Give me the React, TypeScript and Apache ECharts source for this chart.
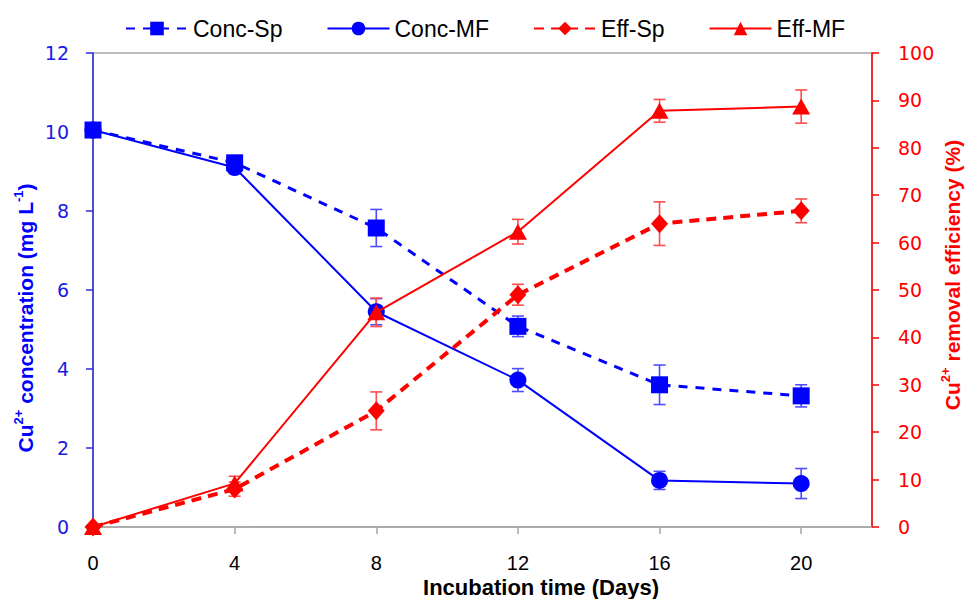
import React, { useEffect, useRef } from "react";
import * as echarts from "echarts";

const days = [0, 4, 8, 12, 16, 20];
const concSp = [10.05, 9.22, 7.57, 5.08, 3.6, 3.32];
const concSpErr = [0, 0.12, 0.47, 0.26, 0.5, 0.28];
const concMF = [10.05, 9.1, 5.45, 3.72, 1.18, 1.1];
const concMFErr = [0, 0.15, 0.33, 0.29, 0.23, 0.38];
const effSp = [0, 8, 24.5, 49, 64, 66.7];
const effSpErr = [0, 1.5, 4, 2.2, 4.6, 2.5];
const effMF = [0, 9.2, 45.3, 62.3, 87.8, 88.7];
const effMFErr = [0, 1.5, 3, 2.6, 2.4, 3.5];

const leftTicks = [0, 2, 4, 6, 8, 10, 12];
const rightTicks = [0, 10, 20, 30, 40, 50, 60, 70, 80, 90, 100];

const BLUE = "#0000ff";
const RED = "#ff0000";
const SANS = "'Liberation Sans', Arial, sans-serif";
const TICKFONT = "'DejaVu Sans', sans-serif";

function pts(vals: number[]) {
  return days.map((d, i) => [d, vals[i]]);
}
function errPts(vals: number[], errs: number[]) {
  return days
    .map((d, i) => [d, vals[i] - errs[i], vals[i] + errs[i]])
    .filter((_, i) => errs[i] > 0);
}

function errSeries(name: string, vals: number[], errs: number[], color: string, yAxisIndex: number) {
  return {
    name,
    type: "custom",
    yAxisIndex,
    z: 1,
    data: errPts(vals, errs),
    renderItem: (params: any, api: any) => {
      const x = api.value(0);
      const lo = api.coord([x, api.value(1)]);
      const hi = api.coord([x, api.value(2)]);
      const w = 6;
      const style = { stroke: color, lineWidth: 1.6 };
      return {
        type: "group",
        children: [
          { type: "line", shape: { x1: lo[0], y1: lo[1], x2: hi[0], y2: hi[1] }, style },
          { type: "line", shape: { x1: lo[0] - w, y1: lo[1], x2: lo[0] + w, y2: lo[1] }, style },
          { type: "line", shape: { x1: hi[0] - w, y1: hi[1], x2: hi[0] + w, y2: hi[1] }, style },
        ],
      };
    },
  };
}

export default function App() {
  const ref = useRef<HTMLDivElement>(null);
  useEffect(() => {
    if (!ref.current) return;
    const chart = echarts.init(ref.current, undefined, { renderer: "svg" });
    const titleRich = (color: string) => ({
      n: { fontSize: 21, fontWeight: "bold", fill: color, fontFamily: SANS, lineHeight: 24, verticalAlign: "bottom" },
      s: { fontSize: 13, fontWeight: "bold", fill: color, fontFamily: SANS, lineHeight: 24, verticalAlign: "top" },
    });
    chart.setOption({
      animation: false,
      backgroundColor: "#ffffff",
      grid: {
        left: 93,
        right: 93,
        top: 53,
        bottom: 72,
        show: true,
        borderColor: "#a6a6a6",
        borderWidth: 1.5,
      },
      legend: {
        top: 12,
        left: 120,
        itemWidth: 62,
        itemHeight: 17,
        itemGap: 44,
        data: ["Conc-Sp", "Conc-MF", "Eff-Sp", "Eff-MF"],
        textStyle: { fontSize: 23, color: "#000", fontFamily: SANS },
      },
      xAxis: {
        type: "value",
        min: 0,
        max: 22,
        interval: 4,
        axisLine: { show: true, lineStyle: { color: "#a6a6a6", width: 1.5 } },
        axisTick: { show: true, length: 7, lineStyle: { color: "#a6a6a6", width: 1.5 } },
        axisLabel: {
          fontSize: 20,
          color: "#000",
          fontFamily: SANS,
          margin: 26,
          showMaxLabel: false,
          formatter: (v: number) => (v > 20 ? "" : String(v)),
        },
        splitLine: { show: false },
      },
      yAxis: [
        {
          type: "value",
          min: leftTicks[0],
          max: leftTicks[leftTicks.length - 1],
          interval: 2,
          position: "left",
          axisLine: { show: true, lineStyle: { color: "#2b2bd9", width: 1.5 } },
          axisTick: { show: true, length: 7, lineStyle: { color: "#2b2bd9", width: 1.5 } },
          axisLabel: { fontSize: 19, color: "#1a1ae6", fontFamily: TICKFONT, margin: 24 },
          splitLine: { show: false },
        },
        {
          type: "value",
          min: rightTicks[0],
          max: rightTicks[rightTicks.length - 1],
          interval: 10,
          position: "right",
          axisLine: { show: true, lineStyle: { color: RED, width: 1.5 } },
          axisTick: { show: true, length: 7, lineStyle: { color: RED, width: 1.5 } },
          axisLabel: { fontSize: 19, color: RED, fontFamily: TICKFONT, margin: 26 },
          splitLine: { show: false },
        },
      ],
      graphic: [
        {
          type: "text",
          x: 24,
          y: 318,
          rotation: Math.PI / 2,
          style: {
            text: "{n|Cu}{s|2+}{n| concentration (mg L}{s|-1}{n|)}",
            rich: titleRich(BLUE),
            align: "center",
            verticalAlign: "middle",
          },
        },
        {
          type: "text",
          x: 951,
          y: 275,
          rotation: Math.PI / 2,
          style: {
            text: "{n|Cu}{s|2+}{n| removal efficiency (%)}",
            rich: titleRich(RED),
            align: "center",
            verticalAlign: "middle",
          },
        },
        {
          type: "text",
          x: 541,
          y: 587,
          style: {
            text: "Incubation time (Days)",
            fontSize: 22,
            fontWeight: "bold",
            fill: "#000",
            fontFamily: SANS,
            align: "center",
            verticalAlign: "middle",
          },
        },
      ],
      series: [
        errSeries("err-conc-mf", concMF, concMFErr, "#4d4dff", 0),
        errSeries("err-conc-sp", concSp, concSpErr, "#4d4dff", 0),
        errSeries("err-eff-sp", effSp, effSpErr, "#ff4d4d", 1),
        errSeries("err-eff-mf", effMF, effMFErr, "#ff4d4d", 1),
        {
          name: "Conc-MF",
          type: "line",
          yAxisIndex: 0,
          data: pts(concMF),
          symbol: "circle",
          symbolSize: 17,
          z: 3,
          itemStyle: { color: BLUE },
          lineStyle: { color: BLUE, width: 2 },
        },
        {
          name: "Conc-Sp",
          type: "line",
          yAxisIndex: 0,
          data: pts(concSp),
          symbol: "rect",
          symbolSize: 17,
          z: 4,
          itemStyle: { color: BLUE },
          lineStyle: { color: BLUE, width: 3, type: [9, 8] },
        },
        {
          name: "Eff-MF",
          type: "line",
          yAxisIndex: 1,
          data: pts(effMF),
          symbol: "triangle",
          symbolSize: [18, 16],
          z: 5,
          itemStyle: { color: RED },
          lineStyle: { color: RED, width: 2 },
        },
        {
          name: "Eff-Sp",
          type: "line",
          yAxisIndex: 1,
          data: pts(effSp),
          symbol: "diamond",
          symbolSize: [17, 19],
          z: 6,
          itemStyle: { color: RED },
          lineStyle: { color: RED, width: 4, type: [10, 7] },
        },
      ],
    });
    return () => chart.dispose();
  }, []);
  return (
    <div
      ref={ref}
      style={{ position: "fixed", left: 0, top: 0, width: 965, height: 599 }}
    />
  );
}
